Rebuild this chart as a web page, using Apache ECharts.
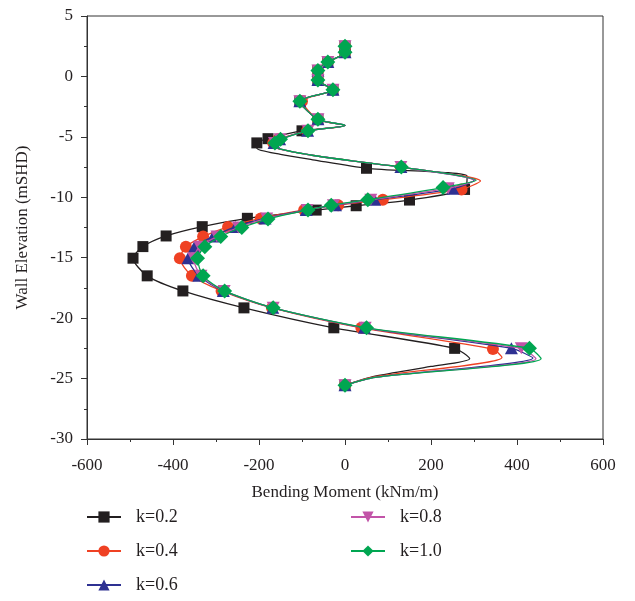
<!DOCTYPE html>
<html>
<head>
<meta charset="utf-8">
<script src="https://cdn.jsdelivr.net/npm/echarts@6/dist/echarts.min.js"></script>
<style>html,body{margin:0;padding:0;background:#fff}#c{width:635px;height:601px}</style>
</head>
<body>
<div id="c"></div>
<script>
// Series names
const seriesNames = ['k=0.2', 'k=0.4', 'k=0.6', 'k=0.8', 'k=1.0'];
// Axis ticks
const xTicks = [-600, -400, -200, 0, 200, 400, 600];
const yTicks = [-30, -25, -20, -15, -10, -5, 0, 5];

// Elevation (mSHD) of each point along the line; marker flag 1 = drawn with a symbol
const elev_k02 = [2.5, 2.0, 1.2, 0.5, -0.3, -1.1, -2.05, -3.55, -4.05, -4.5, -5.15, -5.5, -5.95, -6.45, -6.9, -7.6, -8.25, -9.35, -10.23, -10.7, -11.06, -11.74, -12.43, -13.2, -14.08, -15.04, -16.5, -17.75, -19.15, -20.8, -22.5, -23.35, -24.0, -24.8, -25.55];
const mom_k02  = [0, 0, -40, -63, -63, -28, -105, -63, 0, -100, -179, -205, -205, -150, -75, 50, 284, 278, 150, 26, -67, -227, -332, -416, -470, -493, -460, -377, -235, -26, 255, 290, 200, 70, 0];
const mark_k02 = [1, 1, 1, 1, 1, 1, 1, 1, 0, 1, 1, 1, 0, 0, 0, 1, 0, 1, 1, 1, 1, 1, 1, 1, 1, 1, 1, 1, 1, 1, 1, 0, 0, 0, 1];

const elev_k04 = [2.5, 2.0, 1.2, 0.5, -0.3, -1.1, -2.05, -3.55, -4.05, -4.5, -5.2, -5.5, -5.95, -6.5, -7.05, -7.5, -8.65, -9.35, -10.2, -10.65, -11.05, -11.75, -12.45, -13.25, -14.1, -15.05, -16.5, -17.75, -19.15, -20.8, -22.55, -23.25, -24.85, -25.55];
const mom_k04  = [0, 0, -40, -63, -63, -28, -100, -63, 0, -88, -155, -167, -157, -80, 30, 130, 315, 271, 88, -16, -95, -196, -272, -330, -370, -384, -356, -287, -170, 38, 344, 365, 70, 0];
const mark_k04 = [1, 1, 1, 1, 1, 1, 1, 1, 0, 1, 1, 1, 0, 0, 0, 1, 0, 1, 1, 1, 1, 1, 1, 1, 1, 1, 1, 1, 1, 1, 1, 0, 0, 1];

const elev_k06 = [2.5, 2.0, 1.2, 0.5, -0.3, -1.1, -2.05, -3.55, -4.05, -4.5, -5.2, -5.5, -5.95, -6.5, -7.05, -7.5, -8.6, -9.3, -10.2, -10.65, -11.05, -11.75, -12.45, -13.25, -14.1, -15.05, -16.5, -17.75, -19.15, -20.8, -22.5, -23.3, -24.9, -25.55];
const mom_k06  = [0, 0, -40, -63, -63, -28, -105, -63, 0, -87, -152, -165, -156, -80, 30, 130, 300, 251, 69, -22, -90, -186, -255, -307, -350, -365, -340, -283, -168, 45, 387, 437, 70, 0];
const mark_k06 = [1, 1, 1, 1, 1, 1, 1, 1, 0, 1, 1, 1, 0, 0, 0, 1, 0, 1, 1, 1, 1, 1, 1, 1, 1, 1, 1, 1, 1, 1, 1, 0, 0, 1];

const elev_k08 = [2.5, 2.0, 1.2, 0.5, -0.3, -1.1, -2.05, -3.55, -4.05, -4.5, -5.2, -5.5, -5.95, -6.5, -7.05, -7.5, -8.6, -9.25, -10.2, -10.65, -11.05, -11.75, -12.5, -13.25, -14.1, -15.05, -16.5, -17.75, -19.15, -20.8, -22.5, -23.35, -24.9, -25.55];
const mom_k08  = [0, 0, -40, -63, -63, -28, -105, -63, 0, -86, -151, -164, -155, -80, 30, 130, 302, 240, 60, -27, -88, -182, -248, -298, -338, -352, -335, -281, -167, 47, 410, 444, 70, 0];
const mark_k08 = [1, 1, 1, 1, 1, 1, 1, 1, 0, 1, 1, 1, 0, 0, 0, 1, 0, 1, 1, 1, 1, 1, 1, 1, 1, 1, 1, 1, 1, 1, 1, 0, 0, 1];

const elev_k10 = [2.5, 2.0, 1.2, 0.5, -0.3, -1.1, -2.05, -3.55, -4.05, -4.5, -5.2, -5.5, -5.95, -6.5, -7.05, -7.5, -8.6, -9.2, -10.2, -10.65, -11.05, -11.8, -12.5, -13.25, -14.1, -15.05, -16.5, -17.75, -19.15, -20.8, -22.5, -23.35, -24.9, -25.55];
const mom_k10  = [0, 0, -40, -63, -63, -28, -105, -63, 0, -86, -150, -163, -155, -80, 30, 131, 305, 228, 53, -32, -86, -179, -240, -289, -326, -343, -330, -280, -167, 50, 429, 456, 70, 0];
const mark_k10 = [1, 1, 1, 1, 1, 1, 1, 1, 0, 1, 1, 1, 0, 0, 0, 1, 0, 1, 1, 1, 1, 1, 1, 1, 1, 1, 1, 1, 1, 1, 1, 0, 0, 1];

const colors = ['#231f20', '#ef4123', '#2e3192', '#c254a8', '#00a651'];
const symbols = ['rect', 'circle', 'triangle', 'path://M0,0 L10,0 L5,9 Z', 'diamond'];
const symbolSizes = [11, 12, [13, 12], [13, 12], 15];

const all = [
  [elev_k02, mom_k02, mark_k02],
  [elev_k04, mom_k04, mark_k04],
  [elev_k06, mom_k06, mark_k06],
  [elev_k08, mom_k08, mark_k08],
  [elev_k10, mom_k10, mark_k10]
];

const font = '"Liberation Serif", "DejaVu Serif", serif';

const series = all.map(function (s, i) {
  const data = s[0].map(function (e, j) {
    const item = { value: [s[1][j], e] };
    if (!s[2][j]) item.symbol = 'none';
    return item;
  });
  return {
    name: seriesNames[i],
    type: 'line',
    data: data,
    smooth: 0.25,
    symbol: symbols[i],
    symbolSize: symbolSizes[i],
    showAllSymbol: true,
    color: colors[i],
    lineStyle: { width: 1.3, color: colors[i] },
    itemStyle: { color: colors[i] },
    z: 2 + i,
    animation: false
  };
});

const chart = echarts.init(document.getElementById('c'), null, { renderer: 'canvas' });
chart.setOption({
  animation: false,
  backgroundColor: '#ffffff',
  textStyle: { fontFamily: font },
  grid: { left: 87, right: 32, top: 16, bottom: 162, show: true, borderColor: '#333', borderWidth: 1, backgroundColor: 'transparent' },
  xAxis: {
    type: 'value',
    min: xTicks[0], max: xTicks[xTicks.length - 1], interval: 200,
    name: 'Bending Moment (kNm/m)',
    nameLocation: 'middle', nameGap: 45,
    nameTextStyle: { fontFamily: font, fontSize: 17, color: '#231f20' },
    axisLine: { show: true, onZero: false, lineStyle: { color: '#333', width: 1 } },
    axisTick: { show: true, length: 6, lineStyle: { color: '#333' } },
    minorTick: { show: true, splitNumber: 2, length: 3, lineStyle: { color: '#333' } },
    splitLine: { show: false },
    axisLabel: { fontFamily: font, fontSize: 17, color: '#231f20', margin: 18 }
  },
  yAxis: {
    type: 'value',
    min: yTicks[0], max: yTicks[yTicks.length - 1], interval: 5,
    name: 'Wall Elevation (mSHD)',
    nameLocation: 'middle', nameGap: 56, nameRotate: 90,
    nameTextStyle: { fontFamily: font, fontSize: 17, color: '#231f20' },
    axisLine: { show: true, onZero: false, lineStyle: { color: '#333', width: 1 } },
    axisTick: { show: true, length: 6, lineStyle: { color: '#333' } },
    minorTick: { show: true, splitNumber: 2, length: 3, lineStyle: { color: '#333' } },
    splitLine: { show: false },
    axisLabel: { fontFamily: font, fontSize: 17, color: '#231f20', margin: 14 }
  },
  legend: [
    {
      data: seriesNames.slice(0, 3), orient: 'vertical', left: 86, top: 508, padding: 0,
      itemWidth: 34, itemHeight: 14, itemGap: 16,
      textStyle: { fontFamily: font, fontSize: 18, color: '#231f20', padding: [0, 0, 0, 10] }
    },
    {
      data: seriesNames.slice(3), orient: 'vertical', left: 350, top: 508, padding: 0,
      itemWidth: 34, itemHeight: 14, itemGap: 16,
      textStyle: { fontFamily: font, fontSize: 18, color: '#231f20', padding: [0, 0, 0, 10] }
    }
  ],
  series: series
});
</script>
</body>
</html>
